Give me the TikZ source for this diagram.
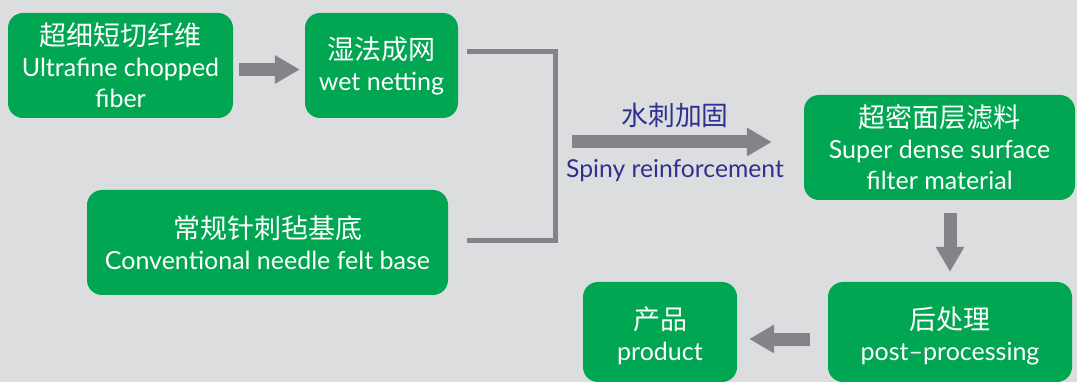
\documentclass[tikz,border=0pt]{standalone}
\usepackage{fontspec}
\setmainfont{Lato}
\newfontfamily\cjk{Noto Sans CJK SC}
\usetikzlibrary{arrows.meta}
\definecolor{bg}{HTML}{DCDDDF}
\definecolor{boxgreen}{HTML}{00A651}
\definecolor{arrgray}{HTML}{838487}
\definecolor{lblblue}{HTML}{2E3192}
\tikzset{
  box/.style={fill=boxgreen, draw=none, rounded corners=15pt, text=white, align=center,
    font=\fontsize{25}{31}\selectfont, inner sep=0pt},
  boxtext/.style={text=white, align=center, font=\fontsize{25}{31}\selectfont, inner sep=0pt},
  blockarrow/.style={draw=arrgray, line width=13pt, -{Triangle[length=25pt,width=27pt]}},
  bracket/.style={draw=arrgray, line width=5pt},
  lbl/.style={text=lblblue, font=\fontsize{24.7}{28}\selectfont, inner sep=0pt}
}
\newcommand{\zhline}[1]{{\cjk\fontsize{27}{31}\selectfont #1}}
\begin{document}
\begin{tikzpicture}[x=1pt,y=-1pt]
\fill[bg] (0,0) rectangle (1077,382);
\useasboundingbox (0,0) rectangle (1077,382);
\clip (0,0) rectangle (1077,382);

\node[box, minimum width=225pt, minimum height=105pt] (b1) at (120.5,65.5)
  {\zhline{超细短切纤维}\\Ultrafine chopped\\fiber};
\node[box, minimum width=153pt, minimum height=105pt] (b2) at (381.5,65.5)
  {\zhline{湿法成网}\\wet netting};
\node[box, minimum width=361pt, minimum height=105pt] (b3) at (267.5,242.5)
  {\zhline{常规针刺毡基底}\\Conventional needle felt base};
\node[box, minimum width=271pt, minimum height=105pt] (b4) at (939.5,147.5)
  {\zhline{超密面层滤料}\\Super dense surface\\filter material};
\node[box, minimum width=244pt, minimum height=100pt] (b5) at (950,332) {};
\node[boxtext] (t5) at (950,336) {\zhline{后处理}\\post–processing};
\node[box, minimum width=154pt, minimum height=100pt] (b6) at (660,332) {};
\node[boxtext] (t6) at (660,336) {\zhline{产品}\\product};

% arrow 1
\draw[blockarrow, shorten <=6pt, shorten >=5pt] ([yshift=-4pt]b1.east) -- ([yshift=-4pt]b2.west);

% bracket
\coordinate (bt) at (467,52);
\coordinate (bb) at (467,241);
\coordinate (bj) at (555,52);
\draw[bracket] (bt) -| (bj |- bb) -- (bb);

% middle arrow
\coordinate (m1) at (572,142);
\draw[blockarrow, shorten >=32pt] (m1) -- (m1 -| b4.west);
\node[lbl, font=\cjk\fontsize{26.8}{28}\selectfont] (l1) at (675,115) {水刺加固};
\node[lbl] (l2) at (675,171) {Spiny reinforcement};

% down arrow
\draw[blockarrow, shorten <=13pt, shorten >=10pt] (b4.south -| b5.north) -- (b5.north);

% left arrow
\draw[blockarrow, shorten <=18pt, shorten >=12pt] ([yshift=-7pt]b5.west) -- ([yshift=-7pt]b6.east);
\end{tikzpicture}
\end{document}
